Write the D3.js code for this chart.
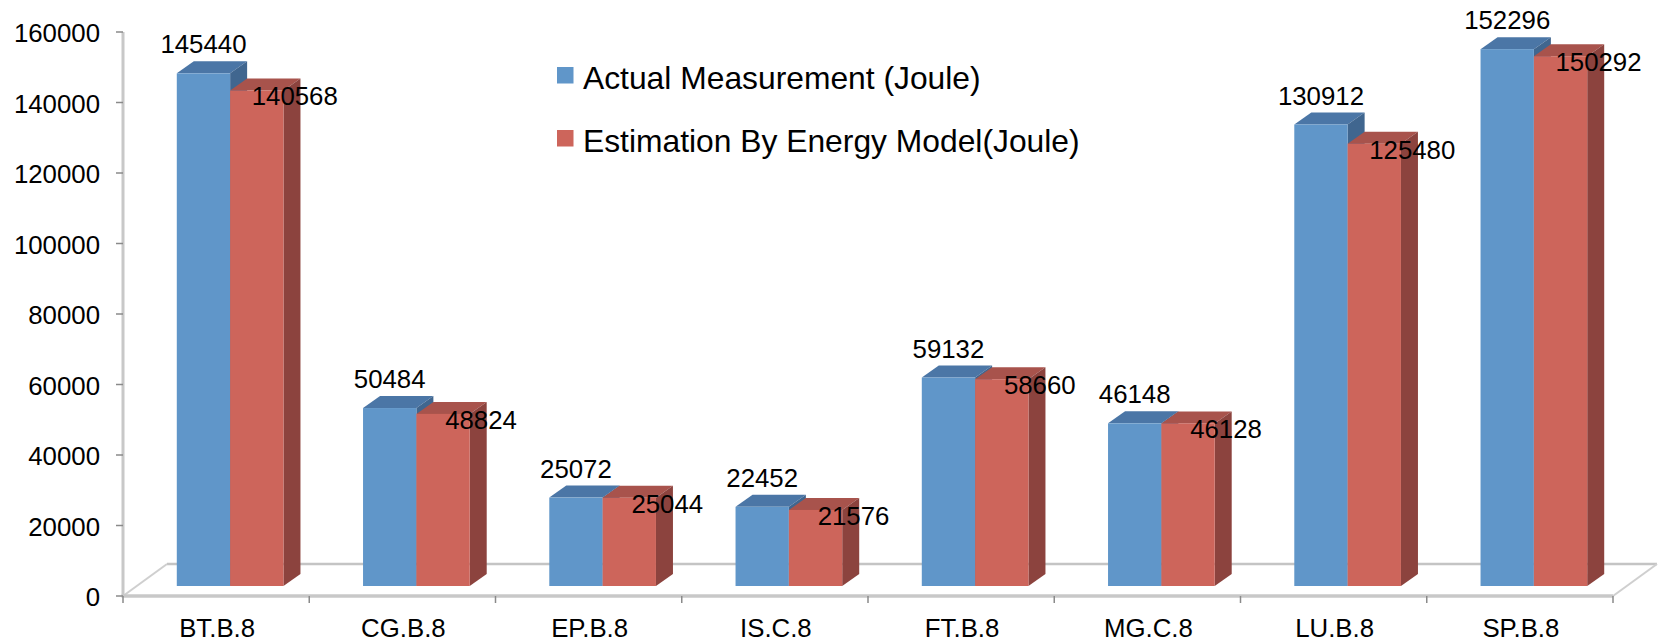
<!DOCTYPE html>
<html>
<head>
<meta charset="utf-8">
<script src="https://cdn.jsdelivr.net/npm/d3@7"></script>
<style>
  html, body { margin: 0; padding: 0; background: #fff; }
  svg { display: block; font-family: "Liberation Sans", Arial, sans-serif; }
</style>
</head>
<body>
<svg id="chart" width="1663" height="641"></svg>
<script>
// Benchmark energy: measured vs. modelled (Joule)
const categories = ["BT.B.8", "CG.B.8", "EP.B.8", "IS.C.8", "FT.B.8", "MG.C.8", "LU.B.8", "SP.B.8"];
const actualValues = [145440, 50484, 25072, 22452, 59132, 46148, 130912, 152296];
const estimatedValues = [140568, 48824, 25044, 21576, 58660, 46128, 125480, 150292];
const seriesNames = ["Actual Measurement (Joule)", "Estimation By Energy Model(Joule)"];
const yTicks = [0, 20000, 40000, 60000, 80000, 100000, 120000, 140000, 160000];

const W = 1663, H = 641;
const plot = { left: 123, right: 1613, top: 32, bottom: 596 };

// pseudo-3D geometry
const floorDepth = { dx: 44, dy: 32 };   // depth of the floor plane
const seriesShift = { dx: 14, dy: 10 };  // where the bar row sits inside the floor
const barDepth = { dx: 17, dy: 12 };     // thickness of each bar

const palette = [
  { front: "#6096c9", top: "#4b76a6", side: "#40668f" },
  { front: "#cd655b", top: "#a8534c", side: "#8c433e" }
];

const svg = d3.select("#chart");

const y = d3.scaleLinear().domain([0, 160000]).range([plot.bottom, plot.top]);
const x = d3.scaleBand().domain(categories).range([plot.left, plot.right]).padding(0);
const xs = d3.scaleBand().domain([0, 1]).range([0, x.bandwidth()])
  .paddingInner(0).paddingOuter(0.746);

const series = [actualValues, estimatedValues];

// ---- floor ----
const floor = svg.append("g").attr("fill", "none");
floor.append("line")
  .attr("x1", plot.left + floorDepth.dx).attr("y1", plot.bottom - floorDepth.dy)
  .attr("x2", plot.right + floorDepth.dx).attr("y2", plot.bottom - floorDepth.dy)
  .attr("stroke", "#c4c4c4").attr("stroke-width", 2.5);
floor.append("line")
  .attr("x1", plot.left).attr("y1", plot.bottom)
  .attr("x2", plot.left + floorDepth.dx).attr("y2", plot.bottom - floorDepth.dy)
  .attr("stroke", "#cfcfcf").attr("stroke-width", 2);
floor.append("line")
  .attr("x1", plot.right).attr("y1", plot.bottom)
  .attr("x2", plot.right + floorDepth.dx).attr("y2", plot.bottom - floorDepth.dy)
  .attr("stroke", "#cfcfcf").attr("stroke-width", 2);

// ---- bars ----
const barBase = plot.bottom - seriesShift.dy;
const bars = svg.append("g");
categories.forEach((cat, i) => {
  series.forEach((vals, s) => {
    const v = vals[i];
    const x0 = x(cat) + xs(s) + seriesShift.dx;
    const x1 = x0 + xs.bandwidth();
    const yt = y(v) - seriesShift.dy;
    const c = palette[s];
    const g = bars.append("g");
    g.append("polygon")
      .attr("points", [[x0, yt], [x1, yt], [x1 + barDepth.dx, yt - barDepth.dy], [x0 + barDepth.dx, yt - barDepth.dy]].join(" "))
      .attr("fill", c.top);
    g.append("polygon")
      .attr("points", [[x1, yt], [x1 + barDepth.dx, yt - barDepth.dy], [x1 + barDepth.dx, barBase - barDepth.dy], [x1, barBase]].join(" "))
      .attr("fill", c.side);
    g.append("rect")
      .attr("x", x0).attr("y", yt)
      .attr("width", x1 - x0).attr("height", barBase - yt)
      .attr("fill", c.front);
  });
});

// ---- axes ----
const axisColor = "#c8c8c8";
svg.append("line")
  .attr("x1", plot.left).attr("y1", plot.top)
  .attr("x2", plot.left).attr("y2", plot.bottom)
  .attr("stroke", axisColor).attr("stroke-width", 3);
svg.append("line")
  .attr("x1", plot.left - 1.5).attr("y1", plot.bottom)
  .attr("x2", plot.right).attr("y2", plot.bottom)
  .attr("stroke", axisColor).attr("stroke-width", 3.5);

const yAxis = svg.append("g");
yAxis.selectAll("line").data(yTicks).join("line")
  .attr("x1", plot.left - 7).attr("x2", plot.left)
  .attr("y1", d => y(d)).attr("y2", d => y(d))
  .attr("stroke", "#8a8a8a").attr("stroke-width", 1.5);
yAxis.selectAll("text").data(yTicks).join("text")
  .attr("x", 100).attr("y", d => y(d) + 10)
  .attr("text-anchor", "end")
  .attr("font-size", 25.8).attr("fill", "#000")
  .text(d => d);

const xTicks = categories.map(c => x(c)).concat([plot.right]);
svg.append("g").selectAll("line").data(xTicks).join("line")
  .attr("x1", d => d).attr("x2", d => d)
  .attr("y1", plot.bottom).attr("y2", plot.bottom + 7)
  .attr("stroke", "#8a8a8a").attr("stroke-width", 1.5);
svg.append("g").selectAll("text").data(categories).join("text")
  .attr("x", d => x(d) + x.bandwidth() / 2 + 1)
  .attr("y", 637)
  .attr("text-anchor", "middle")
  .attr("font-size", 25.8).attr("fill", "#000")
  .text(d => d);

// ---- value labels ----
const labels = svg.append("g").attr("font-size", 25.8).attr("fill", "#000");
categories.forEach((cat, i) => {
  const bx = x(cat) + xs(0) + seriesShift.dx + xs.bandwidth() / 2;
  labels.append("text")
    .attr("x", bx).attr("y", y(actualValues[i]) - seriesShift.dy - 20)
    .attr("text-anchor", "middle")
    .text(actualValues[i]);
  const rx = x(cat) + xs(1) + seriesShift.dx + xs.bandwidth() / 2;
  labels.append("text")
    .attr("x", rx + 38).attr("y", y(estimatedValues[i]) - seriesShift.dy + 15)
    .attr("text-anchor", "middle")
    .text(estimatedValues[i]);
});

// ---- legend ----
const legend = svg.append("g");
seriesNames.forEach((name, s) => {
  const ly = 67 + s * 63;
  legend.append("rect")
    .attr("x", 557).attr("y", ly).attr("width", 16.5).attr("height", 16.5)
    .attr("fill", palette[s].front);
  legend.append("text")
    .attr("x", 583).attr("y", ly + 21.5)
    .attr("font-size", 31.8).attr("fill", "#000")
    .text(name);
});
</script>
</body>
</html>
